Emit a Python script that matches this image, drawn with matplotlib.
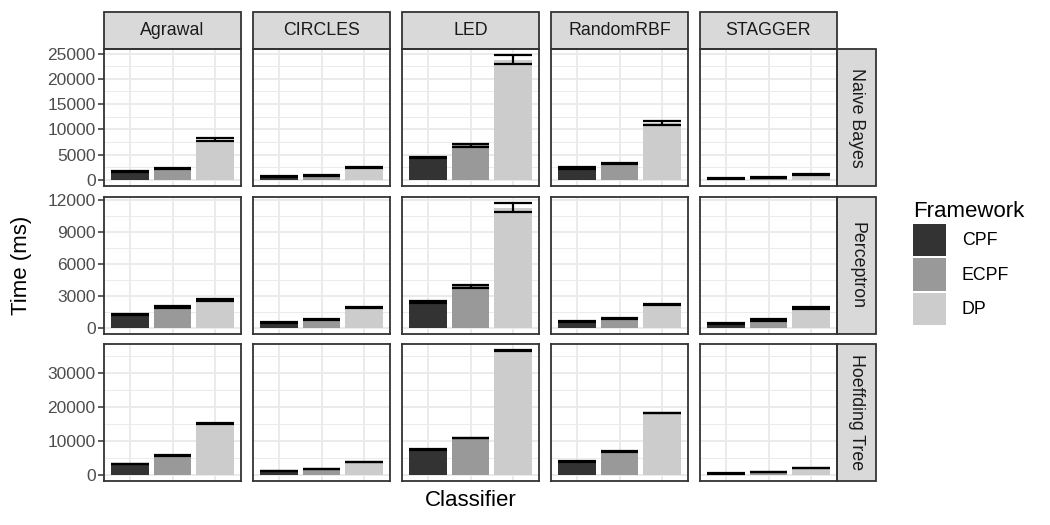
import matplotlib
matplotlib.use("Agg")
import matplotlib.pyplot as plt
from matplotlib.patches import Rectangle, Patch
import numpy as np

plt.rcParams['font.family'] = ['Liberation Sans', 'DejaVu Sans']

# datos
datasets = ['Agrawal', 'CIRCLES', 'LED', 'RandomRBF', 'STAGGER']
classifiers = ['Naive Bayes', 'Perceptron', 'Hoeffding Tree']
frameworks = ['CPF', 'ECPF', 'DP']
colors = ['#333333', '#999999', '#CCCCCC']

# Naive Bayes (CPF, ECPF, DP) por dataset
nb_mean = [[1650, 550, 4450, 2300, 300],
           [2250, 800, 6800, 3200, 450],
           [7960, 2450, 23770, 11240, 1050]]
nb_err = [[150, 100, 150, 150, 80],
          [150, 100, 270, 150, 80],
          [340, 150, 890, 460, 100]]

# Perceptron
pc_mean = [[1250, 530, 2420, 560, 430],
           [1950, 780, 3900, 880, 720],
           [2620, 1900, 11300, 2200, 1850]]
pc_err = [[60, 60, 80, 60, 60],
          [80, 60, 150, 60, 60],
          [90, 80, 420, 80, 80]]

# Hoeffding Tree
ht_mean = [[3150, 1150, 7400, 3950, 400],
           [5650, 1750, 10800, 6900, 900],
           [15050, 3750, 36650, 18250, 2050]]
ht_err = [[80, 80, 100, 80, 60],
          [80, 80, 80, 80, 60],
          [100, 80, 150, 100, 80]]

means = [nb_mean, pc_mean, ht_mean]
errs = [nb_err, pc_err, ht_err]
yticks = [[0, 5000, 10000, 15000, 20000, 25000],
          [0, 3000, 6000, 9000, 12000],
          [0, 10000, 20000, 30000]]

W, H = 1050, 525
fig = plt.figure(figsize=(10.5, 5.25), dpi=100)

col_left = [104, 253, 402, 551, 700]
row_top = [49, 197, 344]
pw, ph = 137, 137
bw = 0.88

for r in range(3):
    m = np.array(means[r])
    e = np.array(errs[r])
    ymax = (m + e).max()
    ylo, yhi = -0.05 * ymax, 1.05 * ymax
    step = yticks[r][1] - yticks[r][0]
    minor = [t + step / 2 for t in yticks[r]]
    for c in range(5):
        ax = fig.add_axes([col_left[c] / W, 1 - (row_top[r] + ph) / H, pw / W, ph / H])
        ax.set_xlim(-0.6, 2.6)
        ax.set_ylim(ylo, yhi)
        ax.set_xticks([0, 1, 2])
        ax.set_yticks(yticks[r])
        ax.set_yticks([v for v in minor if v < yhi], minor=True)
        ax.grid(which='major', color='#EBEBEB', lw=1.4)
        ax.grid(which='minor', axis='y', color='#EBEBEB', lw=0.7)
        ax.set_axisbelow(True)
        for i in range(3):
            ax.bar(i, m[i][c], width=bw, color=colors[i], zorder=2)
            ax.hlines([m[i][c] - e[i][c], m[i][c] + e[i][c]], i - bw / 2, i + bw / 2,
                      color='black', lw=1.6, zorder=3)
            ax.vlines(i, m[i][c] - e[i][c], m[i][c] + e[i][c], color='black', lw=1.6, zorder=3)
        for s in ax.spines.values():
            s.set_color('#333333')
            s.set_linewidth(1.3)
            s.set_zorder(4)
        ax.tick_params(axis='x', length=0, labelbottom=False)
        ax.tick_params(axis='y', which='minor', length=0)
        ax.tick_params(axis='y', which='major', length=4, width=1.1, color='#333333',
                       labelsize=12.5, labelcolor='#4D4D4D', pad=2)
        if c > 0:
            ax.tick_params(axis='y', which='major', length=0, labelleft=False)
        # tiras (strips)
        if r == 0:
            ax.add_patch(Rectangle((0, 1), 1, 37 / ph, transform=ax.transAxes, clip_on=False,
                                   facecolor='#D9D9D9', edgecolor='#333333', lw=1.3))
            ax.text(0.5, 1 + 18.5 / ph, datasets[c], transform=ax.transAxes, ha='center',
                    va='center', fontsize=12.8, color='#1A1A1A')
        if c == 4:
            ax.add_patch(Rectangle((1, 0), 39 / pw, 1, transform=ax.transAxes, clip_on=False,
                                   facecolor='#D9D9D9', edgecolor='#333333', lw=1.3))
            ax.text(1 + 19.5 / pw, 0.5, classifiers[r], transform=ax.transAxes, ha='center',
                    va='center', rotation=-90, fontsize=12.8, color='#1A1A1A')

fig.text(22 / W, 1 - 265 / H, 'Time (ms)', rotation=90, ha='center', va='center', fontsize=16)
fig.text(471 / W, 1 - 500 / H, 'Classifier', ha='center', va='center', fontsize=16)

handles = [Patch(facecolor=colors[i], edgecolor='none') for i in range(3)]
leg = fig.legend(handles, frameworks, title='Framework', loc='upper left',
                 bbox_to_anchor=(904 / W, 1 - 192 / H), frameon=False, fontsize=12.8,
                 title_fontsize=16, handlelength=1.86, handleheight=2.45,
                 labelspacing=0.1, handletextpad=0.9, borderpad=0, alignment='left')

fig.savefig('out.png', dpi=100)
